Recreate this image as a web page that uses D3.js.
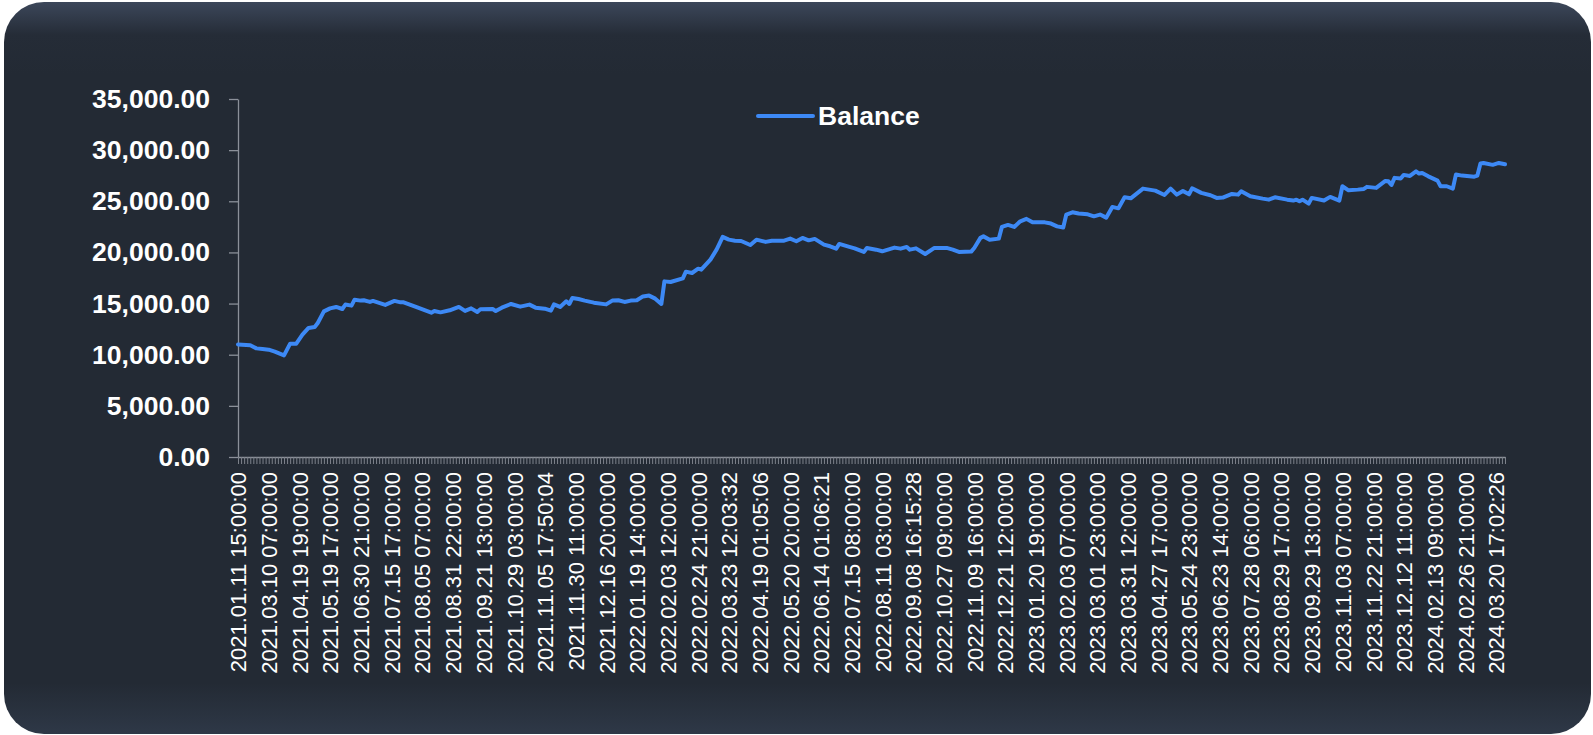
<!DOCTYPE html>
<html>
<head>
<meta charset="utf-8">
<script src="https://cdn.jsdelivr.net/npm/d3@7"></script>
<style>
  html, body { margin: 0; padding: 0; background: #ffffff; }
  svg { display: block; font-family: "Liberation Sans", Arial, sans-serif; }
</style>
</head>
<body>
<svg id="chart" width="1593" height="735"></svg>
<script>
// tick labels, one every 10 trades
const tickLabels = [
  "2021.01.11 15:00:00", "2021.03.10 07:00:00", "2021.04.19 19:00:00", "2021.05.19 17:00:00",
  "2021.06.30 21:00:00", "2021.07.15 17:00:00", "2021.08.05 07:00:00", "2021.08.31 22:00:00",
  "2021.09.21 13:00:00", "2021.10.29 03:00:00", "2021.11.05 17:50:04", "2021.11.30 11:00:00",
  "2021.12.16 20:00:00", "2022.01.19 14:00:00", "2022.02.03 12:00:00", "2022.02.24 21:00:00",
  "2022.03.23 12:03:32", "2022.04.19 01:05:06", "2022.05.20 20:00:00", "2022.06.14 01:06:21",
  "2022.07.15 08:00:00", "2022.08.11 03:00:00", "2022.09.08 16:15:28", "2022.10.27 09:00:00",
  "2022.11.09 16:00:00", "2022.12.21 12:00:00", "2023.01.20 19:00:00", "2023.02.03 07:00:00",
  "2023.03.01 23:00:00", "2023.03.31 12:00:00", "2023.04.27 17:00:00", "2023.05.24 23:00:00",
  "2023.06.23 14:00:00", "2023.07.28 06:00:00", "2023.08.29 17:00:00", "2023.09.29 13:00:00",
  "2023.11.03 07:00:00", "2023.11.22 21:00:00", "2023.12.12 11:00:00", "2024.02.13 09:00:00",
  "2024.02.26 21:00:00", "2024.03.20 17:02:26"
];
const labelEvery = 10;
const tradeCount = 414;

// balance: [trade index, balance]
const balance = [
  [0, 11000], [4, 10920], [6, 10620], [8, 10560], [10, 10490], [12, 10300], [15, 9940],
  [17, 11080], [19, 11080], [21, 11960], [23, 12620], [25, 12710], [26, 13100], [28, 14240],
  [30, 14530], [32, 14670], [34, 14470], [35, 14900], [37, 14800], [38, 15380], [40, 15290],
  [41, 15320], [43, 15160], [44, 15260], [48, 14870], [51, 15260], [53, 15120], [54, 15120],
  [58, 14670], [63, 14110], [64, 14280], [66, 14140], [69, 14340], [72, 14670], [74, 14280],
  [76, 14530], [78, 14180], [79, 14440], [83, 14470], [84, 14280], [86, 14600], [89, 14960],
  [92, 14700], [95, 14900], [97, 14600], [100, 14500], [102, 14310], [103, 14920], [105, 14670],
  [107, 15220], [108, 14960], [109, 15550], [111, 15450], [113, 15290], [116, 15090], [120, 14920],
  [122, 15290], [124, 15320], [126, 15160], [128, 15290], [130, 15320], [132, 15700], [134, 15780],
  [136, 15480], [138, 14960], [139, 17170], [141, 17110], [145, 17470], [146, 18120], [148, 17990],
  [150, 18410], [151, 18320], [154, 19300], [156, 20270], [158, 21520], [160, 21250], [162, 21150],
  [164, 21120], [167, 20730], [169, 21250], [172, 21030], [174, 21150], [178, 21150], [180, 21350],
  [182, 21090], [184, 21420], [186, 21180], [188, 21320], [191, 20760], [193, 20600], [195, 20370],
  [196, 20830], [199, 20570], [201, 20400], [204, 20050], [205, 20440], [208, 20270], [210, 20110],
  [214, 20470], [216, 20370], [218, 20540], [219, 20270], [221, 20400], [224, 19850], [227, 20440],
  [231, 20440], [233, 20270], [235, 20050], [239, 20080], [240, 20440], [242, 21420], [243, 21570],
  [245, 21250], [248, 21350], [249, 22490], [251, 22690], [253, 22490], [255, 23040], [257, 23280],
  [259, 22940], [263, 22940], [265, 22820], [267, 22550], [269, 22430], [270, 23700], [272, 23920],
  [274, 23800], [277, 23730], [279, 23530], [281, 23700], [283, 23400], [285, 24450], [287, 24310],
  [289, 25390], [291, 25290], [295, 26240], [299, 26040], [302, 25620], [304, 26240], [306, 25650],
  [308, 26010], [310, 25680], [311, 26270], [314, 25820], [317, 25590], [319, 25330], [321, 25360],
  [324, 25720], [326, 25650], [327, 25980], [330, 25490], [334, 25260], [336, 25160], [338, 25390],
  [342, 25160], [344, 25070], [345, 25160], [346, 25000], [347, 25160], [349, 24770], [350, 25330],
  [354, 25070], [356, 25430], [359, 25070], [360, 26470], [362, 26070], [365, 26140], [367, 26210],
  [368, 26410], [371, 26310], [374, 26990], [375, 26950], [376, 26600], [377, 27290], [379, 27220],
  [380, 27580], [382, 27480], [384, 27930], [385, 27710], [386, 27770], [388, 27440], [391, 27020],
  [392, 26470], [394, 26470], [396, 26240], [397, 27610], [399, 27510], [403, 27410], [404, 27510],
  [405, 28690], [406, 28750], [409, 28560], [411, 28750], [413, 28620]
];

const yTicks = [0, 5000, 10000, 15000, 20000, 25000, 30000, 35000];

const svg = d3.select('#chart');

// card background with lighter top/bottom edges
const defs = svg.append('defs');
const grad = defs.append('linearGradient')
  .attr('id', 'cardGrad').attr('x1', 0).attr('y1', 0).attr('x2', 0).attr('y2', 1);
[[0, '#3c475a'], [0.045, '#252c37'], [0.1, '#232a34'], [0.93, '#232a34'], [1, '#2e3847']]
  .forEach(([o, c]) => grad.append('stop').attr('offset', o).attr('stop-color', c));

svg.append('rect')
  .attr('x', 4).attr('y', 2)
  .attr('width', 1587).attr('height', 732)
  .attr('rx', 40).attr('ry', 40)
  .attr('fill', 'url(#cardGrad)');

const x = d3.scaleLinear().domain([0, tradeCount - 1]).range([238, 1505]);
const y = d3.scaleLinear().domain([0, 35000]).range([457, 99]);

// y axis
const yAxis = svg.append('g')
  .attr('transform', `translate(${x(0)},0)`)
  .call(d3.axisLeft(y).tickValues(yTicks).tickFormat(d3.format(',.2f')).tickSize(9).tickSizeOuter(0).tickPadding(19));
yAxis.select('.domain').attr('stroke', '#8b9099').attr('stroke-width', 1.3);
yAxis.selectAll('.tick line').attr('stroke', '#8b9099').attr('stroke-width', 1.3);
yAxis.selectAll('.tick text')
  .attr('fill', '#ffffff')
  .style('font-size', '26.5px')
  .style('font-weight', 'bold');

// x axis: a tick per trade, a label every 10 trades
const xAxis = svg.append('g')
  .attr('transform', `translate(0,${y(0)})`)
  .call(d3.axisBottom(x)
    .tickValues(d3.range(tradeCount))
    .tickSize(7).tickSizeOuter(0)
    .tickFormat(i => i % labelEvery === 0 ? (tickLabels[i / labelEvery] || '') : ''));
xAxis.select('.domain').attr('stroke', '#8b9099').attr('stroke-width', 1.3);
xAxis.selectAll('.tick line').attr('stroke', '#7d828b').attr('stroke-width', 1);
xAxis.selectAll('.tick text')
  .attr('fill', '#ffffff')
  .attr('transform', 'rotate(-90)')
  .attr('x', -15).attr('y', 0).attr('dy', '0.36em')
  .attr('text-anchor', 'end')
  .style('font-size', '22px');

// balance line
const line = d3.line()
  .x(d => x(d[0]))
  .y(d => y(d[1]));

svg.append('path')
  .datum(balance)
  .attr('d', line)
  .attr('fill', 'none')
  .attr('stroke', '#3d89f5')
  .attr('stroke-width', 4)
  .attr('stroke-linejoin', 'round')
  .attr('stroke-linecap', 'round');

// legend
const legend = svg.append('g').attr('transform', 'translate(758,116)');
legend.append('line')
  .attr('x1', 0).attr('x2', 55)
  .attr('stroke', '#3d89f5').attr('stroke-width', 4).attr('stroke-linecap', 'round');
legend.append('text')
  .attr('x', 60).attr('y', 9)
  .attr('fill', '#ffffff')
  .style('font-size', '26.5px')
  .style('font-weight', 'bold')
  .text('Balance');
</script>
</body>
</html>
